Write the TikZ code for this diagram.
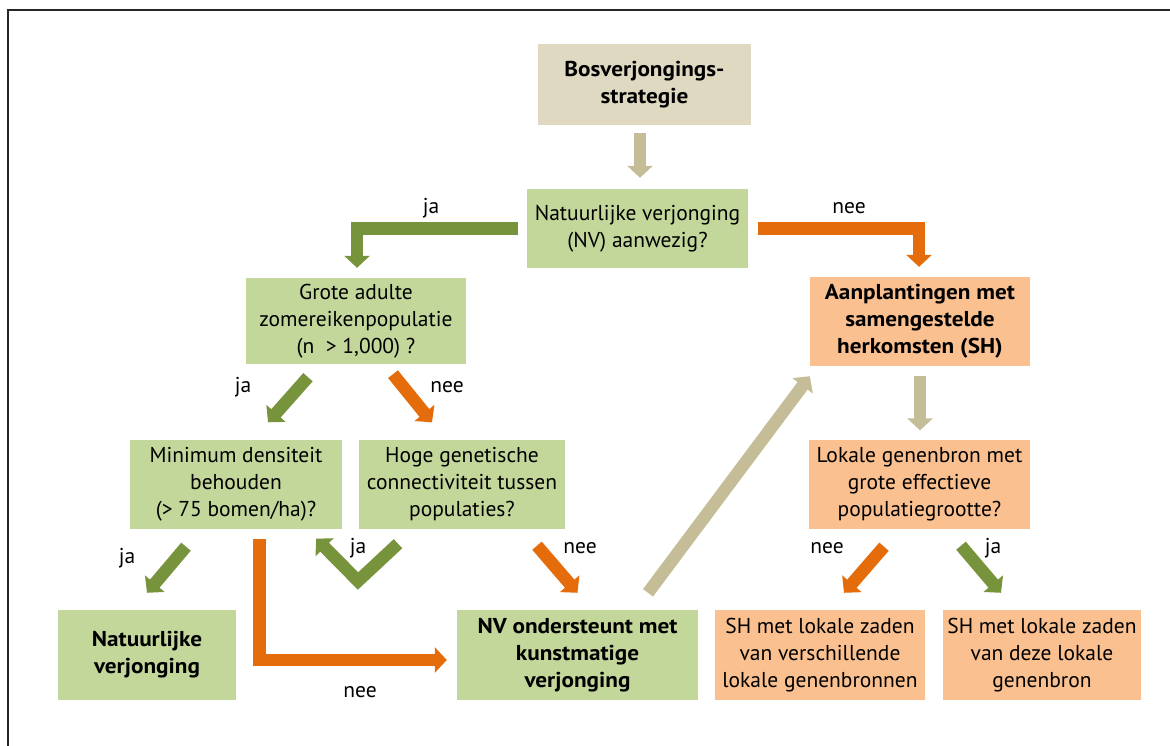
\documentclass[tikz,border=0pt]{standalone}
\usepackage{fontspec}
\setmainfont{PT Sans}[BoldFeatures={FakeStretch=1.08}]
\usetikzlibrary{arrows.meta,calc}

\definecolor{beigefill}{RGB}{223,217,193}
\definecolor{beigearr}{RGB}{196,189,151}
\definecolor{greenfill}{RGB}{196,215,155}
\definecolor{greenarr}{RGB}{119,147,60}
\definecolor{orangefill}{RGB}{250,192,144}
\definecolor{orangearr}{RGB}{228,108,10}

\tikzset{
	txt/.style={font=\fontsize{21.5}{27}\selectfont},
	boldtxt/.style={font=\fontsize{21.5}{27}\selectfont\bfseries},
	box/.style={txt, inner sep=0pt, align=center},
	beigebox/.style={box, fill=beigefill},
	greenbox/.style={box, fill=greenfill},
	orangebox/.style={box, fill=orangefill},
	blockarr/.style={line width=12.5pt, -{Triangle[width=25pt,length=12pt]}},
	beigearrow/.style={blockarr, draw=beigearr},
	greenarrow/.style={blockarr, draw=greenarr},
	orangearrow/.style={blockarr, draw=orangearr},
	lbl/.style={txt, inner sep=0pt}
}

\begin{document}
\begin{tikzpicture}[x=1pt, y=-1pt]
		\useasboundingbox (0,0) rectangle (1170,746);
		\draw[line width=1.2pt, black!85] (8,746) -- (8,10) -- (1170,10);

		\node[beigebox, boldtxt, minimum width=213, minimum height=81] (bos) at (644.5,84.5) {Bosverjongings-\\strategie};
		\node[greenbox, minimum width=221, minimum height=79] (nv) at (637.5,228.5) {Natuurlijke verjonging\\(NV) aanwezig?};
		\node[greenbox, minimum width=220, minimum height=86] (grote) at (356,321) {Grote adulte\\zomereikenpopulatie\\(n ~> 1,000) ?};
		\node[orangebox, boldtxt, minimum width=220, minimum height=89] (aanpl) at (920,321.5) {Aanplantingen met\\samengestelde\\herkomsten (SH)};
		\node[greenbox, minimum width=212, minimum height=89] (mindens) at (236,484) {Minimum densiteit\\behouden\\(> 75 bomen/ha)?};
		\node[greenbox, minimum width=206, minimum height=89] (hoge) at (462,484) {Hoge genetische\\connectiviteit tussen\\populaties?};
		\node[orangebox, minimum width=221, minimum height=89] (lokaal) at (919.5,484) {Lokale genenbron met\\grote effectieve\\populatiegrootte?};
		\node[greenbox, boldtxt, minimum width=178, minimum height=90] (natv) at (147,655) {Natuurlijke\\verjonging};
		\node[greenbox, boldtxt, minimum width=241, minimum height=90] (nvond) at (577.5,655) {NV ondersteunt met\\kunstmatige\\verjonging};
		\node[orangebox, minimum width=210, minimum height=90] (shvers) at (820,655) {SH met lokale zaden\\van verschillende\\lokale genenbronnen};
		\node[orangebox, minimum width=198, minimum height=90] (shdeze) at (1042,655) {SH met lokale zaden\\van deze lokale\\genenbron};

		\draw[beigearrow] ($(bos.south)+(-4.5,8)$) -- ($(nv.north)+(2.5,-11)$);
		\draw[greenarrow] ($(nv.west)+(-9,0)$) -| ($(grote.north)+(1,-10)$);
		\draw[orangearrow] ($(nv.east)+(10,0)$) -| ($(aanpl.north)+(-1,-10)$);
		\draw[greenarrow] ($(grote.south)+(-48,13)$) -- ($(mindens.north)+(32,-17)$);
		\draw[orangearrow] ($(grote.south)+(37,10)$) -- ($(hoge.north)+(-30,-17)$);
		\draw[beigearrow] ($(aanpl.south)+(0,10)$) -- ($(lokaal.north)+(0.5,-9)$);
		\draw[greenarrow] ($(mindens.south)+(-50,18)$) -- ($(natv.north)+(0,-17)$);
		\draw[orangearrow] ($(mindens.south)+(23.5,10)$) |- ($(nvond.west)+(-10,5)$);
		\draw[greenarrow] ($(hoge.south)+(-64,15)$) -- (358,581) -- ($(mindens.south east)+(-26,10)$);
		\draw[orangearrow] ($(hoge.south)+(75,17)$) -- ($(nvond.north)+(0,-17)$);
		\draw[beigearrow] ($(nvond.north)+(70.5,-17)$) -- ($(aanpl.south west)+(0,10)$);
		\draw[orangearrow] ($(lokaal.south)+(-35.5,18)$) -- ($(shvers.north)+(24,-17)$);
		\draw[greenarrow] ($(lokaal.south)+(41.5,17)$) -- ($(shdeze.north)+(-41,-17)$);

		\node[lbl] (ja1) at (431,208) {ja};
		\node[lbl] (nee1) at (849,208) {nee};
		\node[lbl] (ja2) at (243,387) {ja};
		\node[lbl] (nee2) at (447,387) {nee};
		\node[lbl] (ja3) at (127,558) {ja};
		\node[lbl] (ja4) at (358,548) {ja};
		\node[lbl] (nee3) at (580,548) {nee};
		\node[lbl] (nee4) at (360,692) {nee};
		\node[lbl] (nee5) at (827,548) {nee};
		\node[lbl] (ja5) at (993,548) {ja};
	\end{tikzpicture}
\end{document}
